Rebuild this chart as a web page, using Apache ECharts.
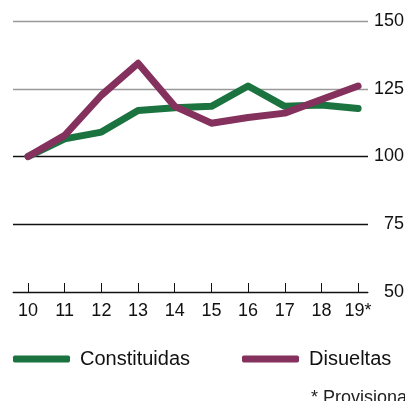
<!DOCTYPE html>
<html>
<head>
<meta charset="utf-8">
<script src="https://cdn.jsdelivr.net/npm/echarts@6/dist/echarts.min.js"></script>
<style>html,body{margin:0;padding:0;background:#fff}#c{width:405px;height:401px}</style>
</head>
<body>
<div id="c"></div>
<script>
const years = [10, 11, 12, 13, 14, 15, 16, 17, 18, 19];
const yearLabels = ['10', '11', '12', '13', '14', '15', '16', '17', '18', '19*'];
const constituidas = [100, 106.5, 109, 117, 118, 118.5, 126, 118.5, 119, 117.7];
const disueltas = [100, 107.8, 122.6, 134.4, 118.5, 112.3, 114.4, 116, 121, 126];
const yTicks = [50, 75, 100, 125, 150];
const seriesNames = ['Constituidas', 'Disueltas'];
const colors = ['#1b7340', '#85315d'];
const footnote = '* Provisional';

const FONT = 'Liberation Sans';
const chart = echarts.init(document.getElementById('c'));
const labelMap = {};
years.forEach((y, i) => labelMap[y] = yearLabels[i]);

chart.setOption({
  animation: false,
  grid: { left: 13, right: 37, top: 21, bottom: 109, containLabel: false, outerBoundsMode: 'none' },
  xAxis: {
    type: 'value', min: 9.59, max: 19.27,
    axisLine: { show: true, lineStyle: { color: '#111', width: 1 } },
    axisTick: { show: true, inside: true, length: 9, customValues: years, lineStyle: { color: '#111' } },
    axisLabel: { customValues: years, formatter: v => labelMap[Math.round(v)] || '', color: '#111', fontSize: 18, fontFamily: FONT, margin: 10 },
    splitLine: { show: false }
  },
  yAxis: {
    type: 'value', position: 'right', min: yTicks[0], max: yTicks[yTicks.length - 1], interval: 25,
    axisLine: { show: false }, axisTick: { show: false },
    axisLabel: { color: '#111', fontSize: 18, fontFamily: FONT, align: 'right', margin: 36 },
    splitLine: { show: true, lineStyle: { color: ['#111', '#111', '#111', '#999', '#999'], width: 1.3 } }
  },
  legend: [
    { data: [seriesNames[0]], left: 13, top: 349, padding: 0, itemWidth: 57, itemHeight: 7, icon: 'roundRect',
      textStyle: { fontSize: 20, fontFamily: FONT, color: '#111', padding: [0, 0, 0, 5] } },
    { data: [seriesNames[1]], left: 242, top: 349, padding: 0, itemWidth: 57, itemHeight: 7, icon: 'roundRect',
      textStyle: { fontSize: 20, fontFamily: FONT, color: '#111', padding: [0, 0, 0, 5] } }
  ],
  graphic: [{ type: 'text', left: 311, top: 389, style: { text: footnote, fontSize: 18, fontFamily: FONT, fill: '#222' } }],
  series: [
    { name: seriesNames[0], type: 'line', data: years.map((y, i) => [y, constituidas[i]]), color: colors[0],
      showSymbol: false, lineStyle: { width: 7, cap: 'round', join: 'round' }, z: 2 },
    { name: seriesNames[1], type: 'line', data: years.map((y, i) => [y, disueltas[i]]), color: colors[1],
      showSymbol: false, lineStyle: { width: 7, cap: 'round', join: 'round' }, z: 3 }
  ]
});
</script>
</body>
</html>
